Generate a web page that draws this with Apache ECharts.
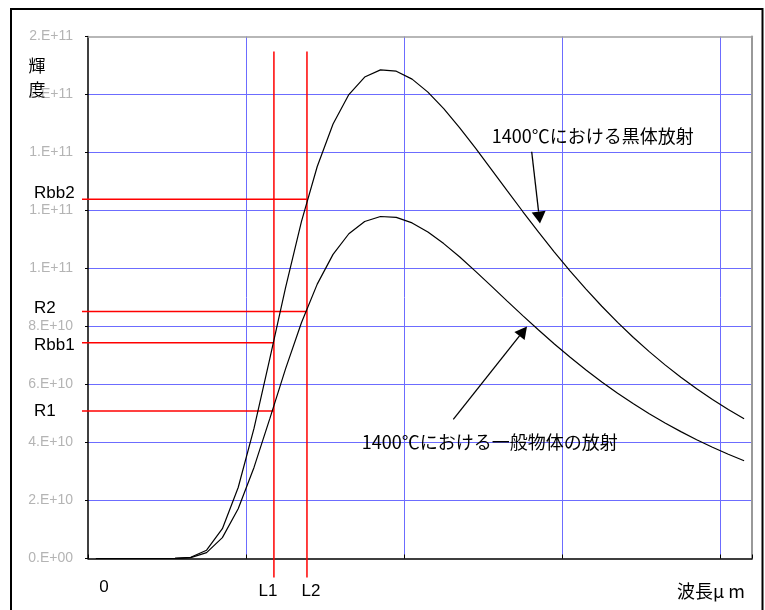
<!DOCTYPE html>
<html>
<head>
<meta charset="utf-8">
<script src="https://cdn.jsdelivr.net/npm/echarts@6/dist/echarts.min.js"></script>
<style>
html,body{margin:0;padding:0;background:#fff;}
#chart{width:765px;height:610px;}
</style>
</head>
<body>
<div id="chart"></div>
<script>
// ---- data (radiance in units of 1e10, one value per wavelength category) ----
const categoryCount = 42;
const blackBody = [0, 0, 0, 0, 0, 0.002, 0.041, 0.287, 1.028, 2.449, 4.486, 6.890, 9.351, 11.615, 13.516, 14.981, 15.997, 16.601, 16.848, 16.803, 16.530, 16.082, 15.513, 14.861, 14.157, 13.429, 12.693, 11.965, 11.253, 10.568, 9.911, 9.288, 8.698, 8.143, 7.621, 7.133, 6.676, 6.250, 5.852, 5.482, 5.138, 4.818];
const generalBody = [0, 0, 0, 0, 0, 0.001, 0.029, 0.201, 0.720, 1.714, 3.140, 4.823, 6.546, 8.131, 9.461, 10.487, 11.198, 11.621, 11.794, 11.762, 11.571, 11.257, 10.859, 10.403, 9.910, 9.400, 8.885, 8.376, 7.877, 7.398, 6.938, 6.502, 6.089, 5.700, 5.335, 4.993, 4.673, 4.375, 4.096, 3.837, 3.597, 3.373];
const yTickLabels = ['0.E+00', '2.E+10', '4.E+10', '6.E+10', '8.E+10', '1.E+11', '1.E+11', '1.E+11', '2.E+11', '2.E+11'];
const xStartLabel = '0';
const xAxisTitle = '波長μ m';
const yAxisTitle = '輝\n度';
const blackBodyNote = '1400℃における黒体放射';
const generalBodyNote = '1400℃における一般物体の放射';
// reference marks (x in category-axis units, y in 1e10 units)
const wavelengthMarks = [{ name: 'L1', x: 11.76 }, { name: 'L2', x: 13.85 }];
const radianceMarks = [
  { name: 'Rbb2', y: 12.39, mark: 'L2' },
  { name: 'R2', y: 8.52, mark: 'L2' },
  { name: 'Rbb1', y: 7.44, mark: 'L1' },
  { name: 'R1', y: 5.09, mark: 'L1' }
];

// ---- layout / style ----
const labelOffsets = { Rbb2: -6, R2: -3, Rbb1: 3, R1: 0, L1: -6, L2: 4 };
const gridBlue = '#6c6cff';
const latinFont = '"Liberation Sans", Arial, sans-serif';
const cjkFont = '"Noto Sans CJK JP", sans-serif';
const red = '#ff0000';

const chart = echarts.init(document.getElementById('chart'), null, { renderer: 'canvas' });

const markX = {};
wavelengthMarks.forEach(m => { markX[m.name] = m.x; });

const option = {
  animation: false,
  backgroundColor: '#fff',
  grid: { left: 88, top: 36.5, right: 13, bottom: 51.5, containLabel: false },
  xAxis: [
    {
      type: 'value', min: 0, max: categoryCount, interval: 10, position: 'bottom',
      axisLine: { show: true, onZero: false, lineStyle: { color: '#000', width: 1.5 } },
      axisTick: { show: true, inside: true, length: 4, lineStyle: { color: '#000', width: 1 } },
      axisLabel: { show: false },
      splitLine: { show: true, showMinLine: false, showMaxLine: false, lineStyle: { color: gridBlue, width: 1 } }
    },
    {
      type: 'value', min: 0, max: categoryCount, position: 'top',
      axisLine: { show: true, onZero: false, lineStyle: { color: '#a0a0a0', width: 1.5 } },
      axisTick: { show: false }, axisLabel: { show: false }, splitLine: { show: false }
    }
  ],
  yAxis: [
    {
      type: 'value', min: 0, max: 18, interval: 2, position: 'left',
      axisLine: { show: true, onZero: false, lineStyle: { color: '#000', width: 1.5 } },
      axisTick: { show: true, inside: false, length: 3, lineStyle: { color: '#000', width: 1 } },
      axisLabel: {
        margin: 15, color: '#b4b4b4', fontSize: 14, fontFamily: latinFont,
        formatter: v => yTickLabels[Math.round(v / 2)]
      },
      splitLine: { show: true, showMinLine: false, showMaxLine: false, lineStyle: { color: gridBlue, width: 1 } }
    },
    {
      type: 'value', min: 0, max: 18, position: 'right',
      axisLine: { show: true, onZero: false, lineStyle: { color: '#999', width: 2 } },
      axisTick: { show: false }, axisLabel: { show: false }, splitLine: { show: false }
    }
  ],
  series: [
    {
      name: 'blackBody', type: 'line', xAxisIndex: 0, yAxisIndex: 0,
      data: blackBody.map((v, i) => [i + 0.5, v]),
      showSymbol: false, symbol: 'none', smooth: false, z: 4,
      lineStyle: { color: '#000', width: 1.2 }
    },
    {
      name: 'generalBody', type: 'line', xAxisIndex: 0, yAxisIndex: 0,
      data: generalBody.map((v, i) => [i + 0.5, v]),
      showSymbol: false, symbol: 'none', smooth: false, z: 4,
      lineStyle: { color: '#000', width: 1.2 }
    },
    {
      name: 'wavelengthMarks', type: 'custom', xAxisIndex: 0, yAxisIndex: 0, z: 3, clip: false,
      data: wavelengthMarks.map(m => [m.x, 0]),
      encode: { x: 0, y: 1 },
      renderItem: function (params, api) {
        const cs = params.coordSys;
        const px = api.coord([api.value(0), 0])[0];
        const name = wavelengthMarks[params.dataIndex].name;
        return {
          type: 'group',
          children: [
            { type: 'line', shape: { x1: px, y1: cs.y + 15, x2: px, y2: cs.y + cs.height + 19 },
              style: { stroke: red, lineWidth: 1.5 } },
            { type: 'text', style: { text: name, x: px + labelOffsets[name], y: cs.y + cs.height + 33,
              textAlign: 'center', textVerticalAlign: 'middle', font: '17px ' + latinFont, fill: '#000' } }
          ]
        };
      }
    },
    {
      name: 'radianceMarks', type: 'custom', xAxisIndex: 0, yAxisIndex: 0, z: 3, clip: false,
      data: radianceMarks.map(m => [markX[m.mark], m.y]),
      encode: { x: 0, y: 1 },
      renderItem: function (params, api) {
        const cs = params.coordSys;
        const p = api.coord([api.value(0), api.value(1)]);
        const name = radianceMarks[params.dataIndex].name;
        return {
          type: 'group',
          children: [
            { type: 'line', shape: { x1: cs.x - 6, y1: p[1], x2: p[0], y2: p[1] },
              style: { stroke: red, lineWidth: 1.5 } },
            { type: 'text', style: { text: name, x: cs.x - 54, y: p[1] + labelOffsets[name],
              textAlign: 'left', textVerticalAlign: 'middle', font: '17px ' + latinFont, fill: '#000' } }
          ]
        };
      }
    }
  ],
  graphic: [
    { type: 'rect', z: 100, shape: { x: 11, y: 9, width: 751.5, height: 610 },
      style: { fill: 'none', stroke: '#000', lineWidth: 2 } },
    { type: 'text', z: 100, x: 37, y: 53.5,
      style: { text: yAxisTitle, font: '17px ' + cjkFont, lineHeight: 24, fill: '#000', textAlign: 'center', textVerticalAlign: 'top' } },
    { type: 'text', z: 100, x: 104, y: 587,
      style: { text: xStartLabel, font: '17px ' + latinFont, fill: '#000', textAlign: 'center', textVerticalAlign: 'middle' } },
    { type: 'text', z: 100, x: 745, y: 591.5,
      style: { text: xAxisTitle, font: '18px ' + cjkFont, fill: '#000', textAlign: 'right', textVerticalAlign: 'middle' } },
    { type: 'text', z: 100, x: 491.7, y: 136.5,
      style: { text: blackBodyNote, font: '18px ' + cjkFont, fill: '#000', textAlign: 'left', textVerticalAlign: 'middle' } },
    { type: 'text', z: 100, x: 361.7, y: 441.7,
      style: { text: generalBodyNote, font: '18px ' + cjkFont, fill: '#000', textAlign: 'left', textVerticalAlign: 'middle' } },
    { type: 'line', z: 100, shape: { x1: 531.7, y1: 151.7, x2: 538.6, y2: 211.6 },
      style: { stroke: '#000', lineWidth: 1.3 } },
    { type: 'polygon', z: 100, shape: { points: [[540, 223.5], [545.6, 210.8], [531.7, 212.4]] },
      style: { fill: '#000' } },
    { type: 'line', z: 100, shape: { x1: 453.3, y1: 419.3, x2: 519.5, y2: 335.9 },
      style: { stroke: '#000', lineWidth: 1.3 } },
    { type: 'polygon', z: 100, shape: { points: [[527, 326.5], [524.6, 339.9], [514.4, 331.9]] },
      style: { fill: '#000' } }
  ]
};

chart.setOption(option);
</script>
</body>
</html>
